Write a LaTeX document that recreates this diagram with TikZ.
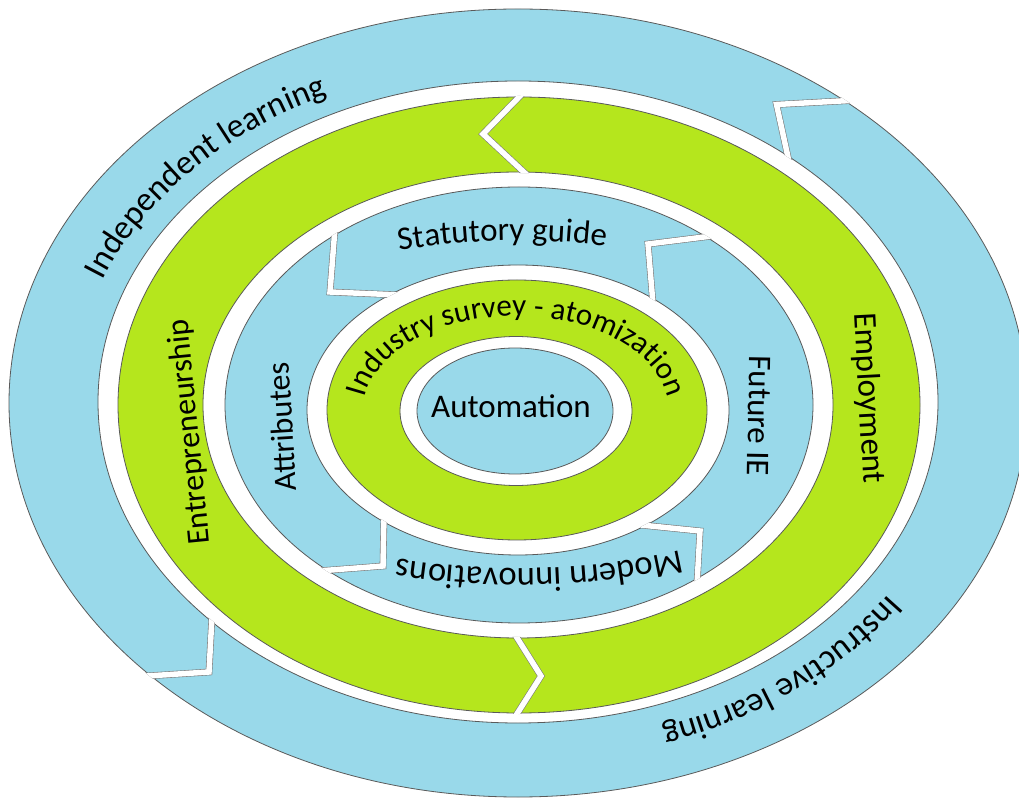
\documentclass[tikz,border=0pt]{standalone}
\usepackage{fontspec}
\setmainfont{Carlito}
\usetikzlibrary{decorations.text}
\definecolor{ringblue}{HTML}{99D9EA}
\definecolor{ringgreen}{HTML}{B5E61D}
\definecolor{edgegray}{HTML}{5A5A5A}
\newcommand\lblfont{\fontsize{33}{40}\selectfont}
\newcommand\lblsize[1]{\fontsize{#1}{#1}\selectfont}
\tikzset{
  ringfill/.style={fill=#1, draw=edgegray, line width=0.8pt, even odd rule},
  gapline/.style={draw=edgegray!80, line width=0.6pt, double=white, double distance=5.5pt, line join=miter},
  lbl/.style={font=\lblfont, inner sep=0pt},
  arctext/.style={decorate, decoration={text along path, text align=#1}},
}
\begin{document}
\begin{tikzpicture}[x=1pt,y=1pt]
\useasboundingbox (0,0) rectangle (1019,798);
\fill[white] (0,0) rectangle (1019,798);

% outer ring: independent / instructive learning
\path[ringfill=ringblue] (518,395) ellipse[x radius=509,y radius=394] (518,396) ellipse[x radius=420,y radius=321];
\begin{scope}[even odd rule]
  \clip (518,395) ellipse[x radius=510,y radius=395] (518,396) ellipse[x radius=419,y radius=320];
  \draw[gapline] (850,697.5) -- (776.5,693.5) -- (789.5,634);
  \draw[gapline] (139,121.5) -- (209,126) -- (212,182);
\end{scope}

% second ring: entrepreneurship / employment
\path[ringfill=ringgreen] (519,393) ellipse[x radius=401,y radius=308] (518,393) ellipse[x radius=315,y radius=233];
\begin{scope}[even odd rule]
  \clip (519,393) ellipse[x radius=402,y radius=309] (518,393) ellipse[x radius=314,y radius=232];
  \draw[gapline] (522,704) -- (483,664) -- (527,623);
  \draw[gapline] (514,165) -- (541,122) -- (515,81);
\end{scope}

% third ring: four segments
\path[ringfill=ringblue] (519,393) ellipse[x radius=294,y radius=218] (518,388) ellipse[x radius=211,y radius=145];
\begin{scope}[even odd rule]
  \clip (519,393) ellipse[x radius=295,y radius=219] (518,388) ellipse[x radius=210,y radius=144];
  \draw[gapline] (335,570) -- (330,506) -- (400,503);
  \draw[gapline] (712,562) -- (648,554) -- (653,494);
  \draw[gapline] (384,283) -- (383,232) -- (318,227);
  \draw[gapline] (641,273) -- (700,267) -- (697,214);
\end{scope}

% fourth ring
\path[ringfill=ringgreen] (517,388) ellipse[x radius=190,y radius=130] (516,387) ellipse[x radius=116,y radius=74.5];

% core
\path[ringfill=ringblue] (515,387) ellipse[x radius=98,y radius=63];

% labels along the rings
\path[arctext=left, decoration={text={|\lblsize{34}|Independent learning}}]
  (518,395.5) ++(158.9:445 and 340) arc[start angle=158.9,end angle=95,x radius=445,y radius=340];
\path[arctext=left, decoration={text={|\lblsize{34}|Instructive learning}}]
  (518,395.5) ++(-34:447 and 343) arc[start angle=-34,end angle=-110,x radius=447,y radius=343];
\path[arctext=center, decoration={text={|\lblsize{33}|Statutory guide}}]
  (518.5,390.5) ++(125:345 and 167) arc[start angle=125,end angle=61,x radius=345,y radius=167];
\path[arctext=center, decoration={text={|\lblsize{34.5}|Modern innovations}}]
  (518.5,390.5) ++(-50:355 and 161) arc[start angle=-50,end angle=-122,x radius=355,y radius=161];
\path[arctext=center, decoration={text={|\lblsize{31}|Industry survey - atomization}}]
  (516.5,387) ++(185:153 and 95) arc[start angle=185,end angle=-5,x radius=153,y radius=95];

% straight labels
\node[lbl, font=\lblsize{32}, rotate=95.6] (entre) at (190,366) {Entrepreneurship};
\node[lbl, font=\lblsize{32}, rotate=93.5] (attr) at (282,371) {Attributes};
\node[lbl, rotate=-91] (future) at (759,382) {Future IE};
\node[lbl, rotate=-87] (employ) at (868,400) {Employment};
\node[lbl, anchor=base] (auto) at (511,380) {Automation};
\end{tikzpicture}
\end{document}
